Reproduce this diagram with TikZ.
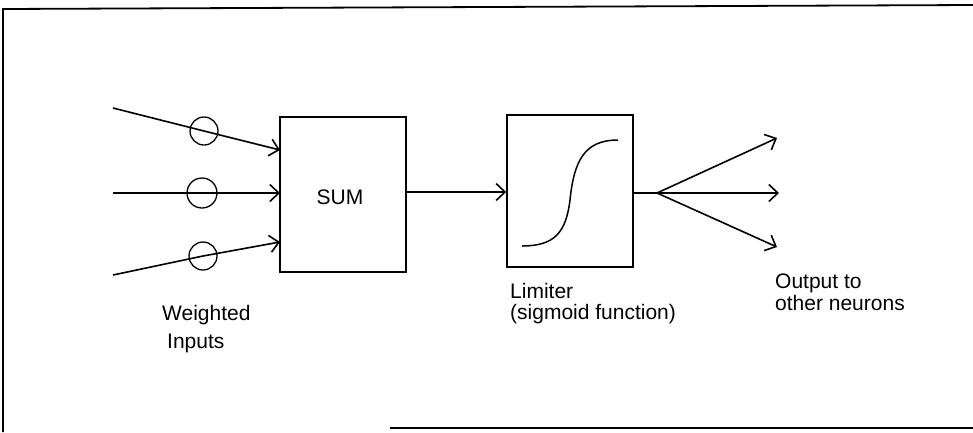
\documentclass[tikz,border=0pt]{standalone}
\usepackage{fontspec}
\setmainfont{Liberation Sans}
\usetikzlibrary{arrows.meta}
\begin{document}
\begin{tikzpicture}[x=1pt,y=-1pt,
  ln/.style={line width=1.6pt,black},
  arr/.style={ln,-{Straight Barb[length=9pt,width=17pt,line width=1.6pt]}},
  blk/.style={draw,line width=1.6pt,minimum width=126pt,minimum height=155pt,inner sep=0pt},
  wt/.style={draw,circle,line width=1.3pt,minimum size=28pt,inner sep=0pt},
  lbl/.style={anchor=base west,inner sep=0pt,font=\fontsize{21}{24}\selectfont}]
\useasboundingbox (0,0) rectangle (973,432);
% frame
\draw[line width=1.8pt] (3,432) -- (3,9) -- (973,5);
\draw[line width=1.8pt] (390,428) -- (973,428);
% blocks
\node[blk] (sum) at (343,194.5) {};
\node[lbl,anchor=center] (sumt) at (340,197) {SUM};
\node[blk,minimum height=152pt] (lim) at (570,191) {};
% weights
\node[wt] (w1) at (204,131) {};
\node[wt,minimum size=30pt] (w2) at (202,193) {};
\node[wt] (w3) at (203,256) {};
\coordinate (in1) at (113,108);
\coordinate (in2) at (113,193);
\coordinate (in3) at (113,275);
\coordinate (e1) at (280,150);
\coordinate (e2) at (280,193);
\coordinate (e3) at (280,242);
\draw[arr] (in1) -- (w1.center) -- (e1);
\draw[arr] (in2) -- (w2.center) -- (e2);
\draw[arr] (in3) -- (w3.center) -- (e3);
% sum to limiter
\draw[arr] (sum.east |- 0,192) -- (lim.west |- 0,192);
% sigmoid
\draw[line width=1.5pt] (522,246) .. controls (555,246) and (566,232) .. (570,200)
  .. controls (574,160) and (585,140) .. (618,140);
% outputs
\coordinate (f) at (657,193);
\coordinate (o1) at (777,138);
\coordinate (o2) at (779,193);
\coordinate (o3) at (777,247);
\draw[ln] (lim.east |- 0,193) -- (f);
\draw[arr] (f) -- (o1);
\draw[arr] (f) -- (o2);
\draw[arr] (f) -- (o3);
% labels
\node[lbl] (l1) at (162,320) {Weighted};
\node[lbl] (l2) at (167,348) {Inputs};
\node[lbl] (l3) at (510,298) {Limiter};
\node[lbl] (l4) at (510,319) {(sigmoid function)};
\node[lbl] (l5) at (775,288) {Output to};
\node[lbl] (l6) at (775,310) {other neurons};
\end{tikzpicture}
\end{document}
